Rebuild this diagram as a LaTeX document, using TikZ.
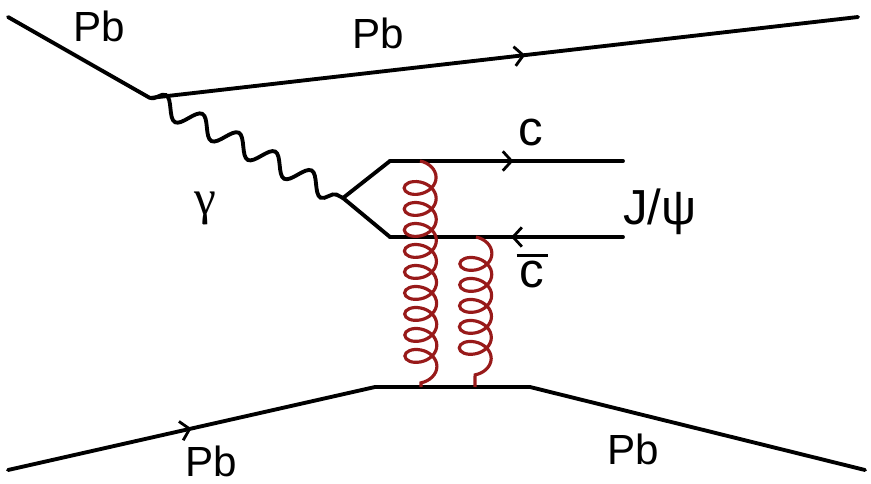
\documentclass[tikz,border=0pt]{standalone}
\usepackage{fontspec}
\setmainfont{Liberation Sans}
\newfontfamily\grkfont{Liberation Serif}
\usetikzlibrary{decorations.pathmorphing,decorations.markings,arrows.meta}

\definecolor{gluonred}{RGB}{152,26,26}

\tikzset{
  fermion/.style={line width=2.2pt, line cap=round, line join=round},
  midarrow/.style={postaction={decorate}, decoration={markings,
      mark=at position #1 with {\arrow{Straight Barb[length=5pt,width=11pt,line width=1.6pt]}}}},
  photon/.style={line width=2.2pt, decorate,
      decoration={snake, segment length=0.82cm, amplitude=0.2cm}},
  gluon/.style={draw=gluonred, line width=1.8pt, decorate,
      decoration={coil, aspect=0.7, segment length=0.42cm, amplitude=0.32cm}},
  pblabel/.style={font=\fontsize{24}{28}\selectfont, inner sep=0pt},
  qlabel/.style={font=\fontsize{28}{32}\selectfont, inner sep=0pt}
}

\begin{document}
\begin{tikzpicture}[x=0.02cm, y=-0.02cm]
\useasboundingbox (0,0) rectangle (871,483);

% vertices
\coordinate (pbin1) at (8,17);
\coordinate (v1) at (150,98);
\coordinate (pbout1) at (858,17);
\coordinate (fork) at (343,198);
\coordinate (cup) at (390,161);
\coordinate (cend) at (623,161);
\coordinate (cbarlow) at (390,237);
\coordinate (cbarend) at (623,237);
\coordinate (pbin2) at (8,470);
\coordinate (v2) at (375,387);
\coordinate (v3) at (530,387);
\coordinate (pbout2) at (865,470);
\coordinate (ga) at (420,161);
\coordinate (gb) at (421,387);
\coordinate (gc) at (476,237);
\coordinate (gd) at (475,387);

% upper Pb line
\draw[fermion] (pbin1) -- (v1);
\draw[fermion, midarrow=0.53] (v1) -- (pbout1);

% photon and c cbar pair
\draw[photon] (v1) -- (fork);
\draw[fermion] (fork) -- (cup);
\draw[fermion, midarrow=0.53] (cup) -- (cend);
\draw[fermion] (fork) -- (cbarlow);
\draw[fermion, midarrow=0.48] (cbarend) -- (cbarlow);

% lower Pb line
\draw[fermion, midarrow=0.5] (pbin2) -- (v2);
\draw[fermion] (v2) -- (v3) -- (pbout2);

% gluons
\draw[gluon] (ga) -- (gb);
\draw[gluon] (gc) -- (gd);

% labels
\node[pblabel] (lpb1) at (99,26) {Pb};
\node[pblabel] (lpb2) at (378,33) {Pb};
\node[pblabel] (lpb3) at (211,461) {Pb};
\node[pblabel] (lpb4) at (633,449) {Pb};
\node[qlabel, font=\grkfont\fontsize{28}{32}\selectfont] (lgam) at (205,208) {γ};
\node[qlabel] (lc) at (531,133) {c};
\node[qlabel, anchor=base] (lcbar) at (532,287) {\rlap{\hspace{-0.06cm}\rule[0.6cm]{0.62cm}{0.06cm}}c};
\node[qlabel] (ljpsi) at (660,212) {J/ψ};
\end{tikzpicture}
\end{document}
